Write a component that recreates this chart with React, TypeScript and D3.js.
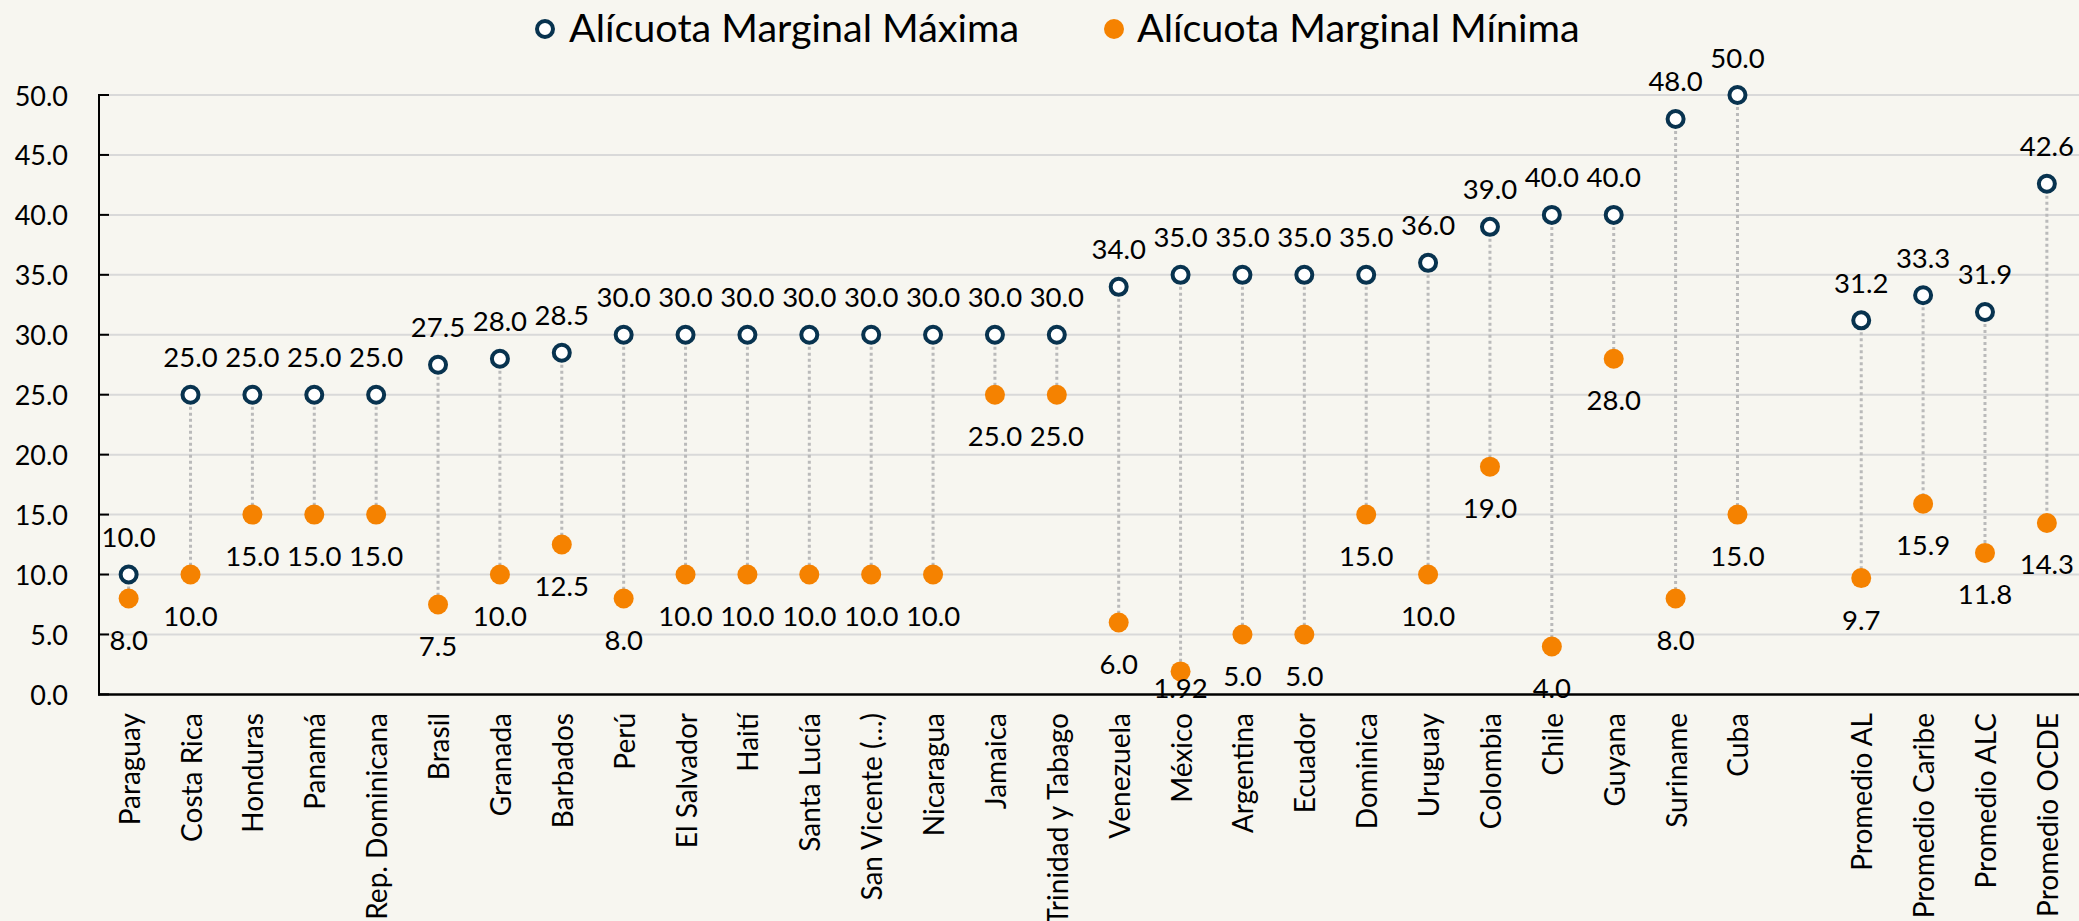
import React, { useEffect } from 'react';
import * as d3 from 'd3';

const categories = [
  'Paraguay', 'Costa Rica', 'Honduras', 'Panamá', 'Rep. Dominicana', 'Brasil', 'Granada', 'Barbados',
  'Perú', 'El Salvador', 'Haití', 'Santa Lucía', 'San Vicente (…)', 'Nicaragua', 'Jamaica',
  'Trinidad y Tabago', 'Venezuela', 'México', 'Argentina', 'Ecuador', 'Dominica', 'Uruguay',
  'Colombia', 'Chile', 'Guyana', 'Suriname', 'Cuba', '',
  'Promedio AL', 'Promedio Caribe', 'Promedio ALC', 'Promedio OCDE',
];

const maxRates: (number | null)[] = [
  10, 25, 25, 25, 25, 27.5, 28, 28.5,
  30, 30, 30, 30, 30, 30, 30,
  30, 34, 35, 35, 35, 35, 36,
  39, 40, 40, 48, 50, null,
  31.2, 33.3, 31.9, 42.6,
];

const minRates: (number | null)[] = [
  8, 10, 15, 15, 15, 7.5, 10, 12.5,
  8, 10, 10, 10, 10, 10, 25,
  25, 6, 1.92, 5, 5, 15, 10,
  19, 4, 28, 8, 15, null,
  9.7, 15.9, 11.8, 14.3,
];

const yTicks = [0, 5, 10, 15, 20, 25, 30, 35, 40, 45, 50];
const seriesNames = ['Alícuota Marginal Máxima', 'Alícuota Marginal Mínima'];

const W = 2079;
const H = 921;
const BG = '#F7F6F0';
const NAVY = '#08334F';
const ORANGE = '#F58200';
const FONT = 'Lato, "Open Sans", sans-serif';

const fmt = (v: number) =>
  Math.abs(v * 10 - Math.round(v * 10)) > 1e-9 ? v.toFixed(2) : v.toFixed(1);

export default function App() {
  useEffect(() => {
    document.body.style.margin = '0';
    document.body.style.background = BG;
  }, []);

  const x = d3.scaleBand<number>()
    .domain(d3.range(categories.length))
    .range([97.7, 2077.8]);
  const y = d3.scaleLinear().domain([0, 50]).range([694.4, 95]);
  const cx = (i: number) => (x(i) as number) + x.bandwidth() / 2;
  const axisX = 99;
  const plotRight = W;
  const yBottom = y(0);

  return (
    <div style={{ position: 'absolute', left: 0, top: 0, width: W, height: H, background: BG }}>
      <svg width={W} height={H} style={{ display: 'block', fontFamily: FONT }}>
        <rect x={0} y={0} width={W} height={H} fill={BG} />

        {/* gridlines */}
        {yTicks.filter(t => t > 0).map(t => (
          <line key={'g' + t} x1={axisX} x2={plotRight} y1={y(t)} y2={y(t)} stroke="#D9D9D9" strokeWidth={2} />
        ))}

        {/* y tick labels */}
        {yTicks.map(t => (
          <text key={'yl' + t} x={68} y={y(t)} textAnchor="end" dominantBaseline="central" fontSize={27} fill="#000">
            {t.toFixed(1)}
          </text>
        ))}
        {/* y tick marks (inside) */}
        {yTicks.map(t => (
          <line key={'yt' + t} x1={axisX} x2={axisX + 10} y1={y(t)} y2={y(t)} stroke="#000" strokeWidth={2} />
        ))}
        {/* axes */}
        <line x1={axisX} x2={axisX} y1={y(50) - 1} y2={yBottom + 1} stroke="#000" strokeWidth={2} />
        <line x1={axisX - 1} x2={plotRight} y1={yBottom} y2={yBottom} stroke="#000" strokeWidth={2.5} />

        {/* x labels */}
        {categories.map((c, i) => c && (
          <text key={'xl' + i} transform={`translate(${cx(i)},${713}) rotate(-90)`} textAnchor="end"
            dominantBaseline="central" fontSize={28} fill="#000">
            {c}
          </text>
        ))}

        {/* connectors */}
        {categories.map((c, i) => {
          const a = maxRates[i], b = minRates[i];
          if (a == null || b == null) return null;
          return (
            <line key={'c' + i} x1={cx(i)} x2={cx(i)} y1={y(a)} y2={y(b)} stroke="#BABABA"
              strokeWidth={3} strokeDasharray="3 3" />
          );
        })}

        {/* min markers */}
        {minRates.map((v, i) => v == null ? null : (
          <circle key={'mn' + i} cx={cx(i)} cy={y(v)} r={10} fill={ORANGE} />
        ))}
        {/* max markers */}
        {maxRates.map((v, i) => v == null ? null : (
          <circle key={'mx' + i} cx={cx(i)} cy={y(v)} r={8} fill="#fff" stroke={NAVY} strokeWidth={4} />
        ))}

        {/* max labels */}
        {maxRates.map((v, i) => v == null ? null : (
          <text key={'lmx' + i} x={cx(i)} y={y(v) - 38} textAnchor="middle" dominantBaseline="central"
            fontSize={27.5} fill="#000">{fmt(v)}</text>
        ))}
        {/* min labels */}
        {minRates.map((v, i) => v == null ? null : (
          <text key={'lmn' + i} x={cx(i)} y={Math.min(y(v) + 41, 687)} textAnchor="middle" dominantBaseline="central"
            fontSize={27.5} fill="#000">{fmt(v)}</text>
        ))}

        {/* legend */}
        <g>
          <circle cx={545} cy={29} r={8} fill="#fff" stroke={NAVY} strokeWidth={4} />
          <text x={569} y={42} fontSize={39.5} fill="#000">{seriesNames[0]}</text>
          <circle cx={1114} cy={29} r={10} fill={ORANGE} />
          <text x={1137} y={42} fontSize={39.5} fill="#000">{seriesNames[1]}</text>
        </g>
      </svg>
    </div>
  );
}
